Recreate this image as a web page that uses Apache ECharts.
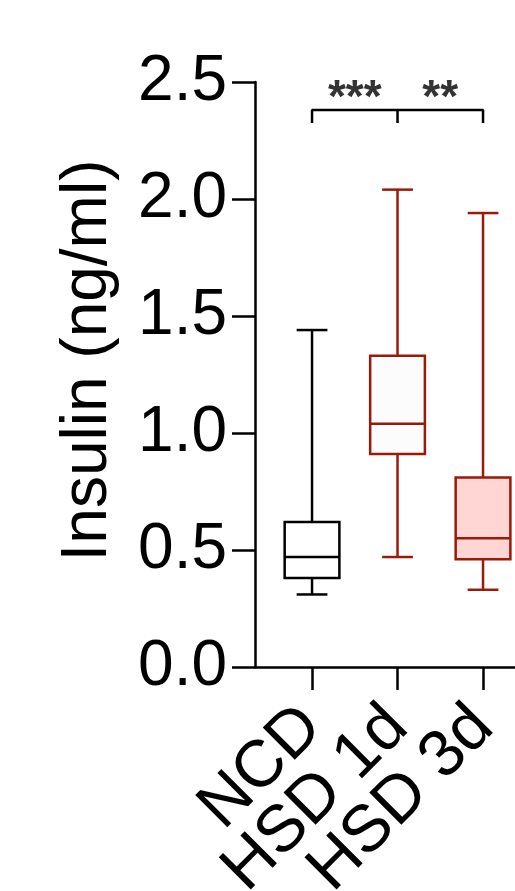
<!DOCTYPE html>
<html>
<head>
    <meta charset="utf-8" />
    <script src="https://cdn.jsdelivr.net/npm/echarts@6.0.0/dist/echarts.min.js"></script>
    <title></title>
    <style>
        html, body { margin: 0; padding: 0; background: #fff; }
    </style>
</head>

<body>
    <div id="main" style="width: 515px;height:891px;"></div>

    <script type="text/javascript">

        // groups
        var categories = ['NCD', 'HSD 1d', 'HSD 3d'];
        // box plot values (ng/ml)
        var whiskerMin = [0.31, 0.47, 0.33];
        var q1 = [0.38, 0.91, 0.46];
        var median = [0.47, 1.04, 0.55];
        var q3 = [0.62, 1.33, 0.81];
        var whiskerMax = [1.44, 2.04, 1.94];
        // y ticks
        var yTicks = [0, 0.5, 1.0, 1.5, 2.0, 2.5];
        // significance bracket
        var bracketTop = 2.38;
        var bracketFoot = 2.325;
        var starLevel = 2.47;
        var stars = ['***', '**'];

        var strokeColors = ['#000000', '#9a1a0a', '#9a1a0a'];
        var fillColors = ['#ffffff', '#fcfcfc', '#ffd6d3'];
        var font = 'Liberation Sans';

        var boxData = [];
        for (var i = 0; i < categories.length; i++) {
            boxData.push([i, whiskerMin[i], q1[i], median[i], q3[i], whiskerMax[i]]);
        }

        var myChart = echarts.init(document.getElementById('main'));

        myChart.setOption({
            animation: false,
            grid: [
                // plot area, axis line starts at the y axis
                { left: 255, right: 0, top: 82, bottom: 224, containLabel: false, outerBoundsMode: 'none' },
                // category bands for ticks and labels
                { left: 269, right: -11, top: 82, bottom: 224, containLabel: false, outerBoundsMode: 'none' }
            ],
            xAxis: [
                {
                    gridIndex: 0,
                    type: 'value',
                    min: -0.667,
                    max: 2.374,
                    splitLine: { show: false },
                    axisLine: { onZero: false, lineStyle: { color: '#000', width: 2.5 } },
                    axisTick: { show: false },
                    axisLabel: { show: false }
                },
                {
                    gridIndex: 1,
                    type: 'category',
                    data: categories,
                    boundaryGap: true,
                    axisLine: { show: false, onZero: false },
                    axisTick: {
                        show: true,
                        alignWithLabel: true,
                        interval: 0,
                        length: 23,
                        lineStyle: { color: '#000', width: 2.5 }
                    },
                    axisLabel: {
                        interval: 0,
                        rotate: 45,
                        margin: 50,
                        color: '#000',
                        fontFamily: font,
                        fontSize: 66
                    }
                }
            ],
            yAxis: [
                {
                    gridIndex: 0,
                    type: 'value',
                    min: 0,
                    max: 2.5,
                    interval: 0.5,
                    name: 'Insulin (ng/ml)',
                    nameLocation: 'middle',
                    nameRotate: 90,
                    nameGap: 135,
                    nameTextStyle: {
                        color: '#000',
                        fontFamily: font,
                        fontSize: 64,
                        padding: [0, 0, 0, 28]
                    },
                    splitLine: { show: false },
                    axisLine: { show: true, onZero: false, lineStyle: { color: '#000', width: 2.5 } },
                    axisTick: { show: true, length: 23, lineStyle: { color: '#000', width: 2.5 } },
                    axisLabel: {
                        margin: 28,
                        color: '#000',
                        fontFamily: font,
                        fontSize: 64,
                        formatter: function (v) { return v.toFixed(1); }
                    }
                },
                {
                    gridIndex: 1,
                    type: 'value',
                    show: false,
                    min: 0,
                    max: 2.5
                }
            ],
            series: [
                {
                    type: 'custom',
                    xAxisIndex: 0,
                    yAxisIndex: 0,
                    data: boxData,
                    clip: false,
                    renderItem: function (params, api) {
                        var idx = api.value(0);
                        var unit = api.size([1, 0])[0];
                        var half = unit * 0.32;
                        var cap = unit * 0.18;
                        var pMin = api.coord([idx, api.value(1)]);
                        var pQ1 = api.coord([idx, api.value(2)]);
                        var pMed = api.coord([idx, api.value(3)]);
                        var pQ3 = api.coord([idx, api.value(4)]);
                        var pMax = api.coord([idx, api.value(5)]);
                        var x = pMin[0];
                        var st = { stroke: strokeColors[idx], lineWidth: 2.5, fill: null };
                        return {
                            type: 'group',
                            children: [
                                { type: 'line', shape: { x1: x, y1: pQ3[1], x2: x, y2: pMax[1] }, style: st },
                                { type: 'line', shape: { x1: x, y1: pQ1[1], x2: x, y2: pMin[1] }, style: st },
                                { type: 'line', shape: { x1: x - cap, y1: pMax[1], x2: x + cap, y2: pMax[1] }, style: st },
                                { type: 'line', shape: { x1: x - cap, y1: pMin[1], x2: x + cap, y2: pMin[1] }, style: st },
                                {
                                    type: 'rect',
                                    shape: { x: x - half, y: pQ3[1], width: half * 2, height: pQ1[1] - pQ3[1] },
                                    style: { stroke: strokeColors[idx], lineWidth: 2.5, fill: fillColors[idx] }
                                },
                                { type: 'line', shape: { x1: x - half, y1: pMed[1], x2: x + half, y2: pMed[1] }, style: st }
                            ]
                        };
                    }
                },
                {
                    type: 'line',
                    xAxisIndex: 0,
                    yAxisIndex: 0,
                    data: [[0, bracketFoot], [0, bracketTop], [2, bracketTop], [2, bracketFoot]],
                    symbol: 'none',
                    lineStyle: { color: '#000', width: 2.5 }
                },
                {
                    type: 'line',
                    xAxisIndex: 0,
                    yAxisIndex: 0,
                    data: [[1, bracketTop], [1, bracketFoot]],
                    symbol: 'none',
                    lineStyle: { color: '#000', width: 2.5 }
                },
                {
                    type: 'scatter',
                    xAxisIndex: 0,
                    yAxisIndex: 0,
                    symbolSize: 0,
                    data: [[0.5, starLevel, stars[0]], [1.5, starLevel, stars[1]]],
                    label: {
                        show: true,
                        position: 'inside',
                        offset: [0, 10],
                        color: '#000',
                        fontFamily: font,
                        fontWeight: 'bold',
                        fontSize: 46,
                        formatter: function (p) { return p.data[2]; }
                    }
                }
            ]
        });

    </script>

</body>
</html>
